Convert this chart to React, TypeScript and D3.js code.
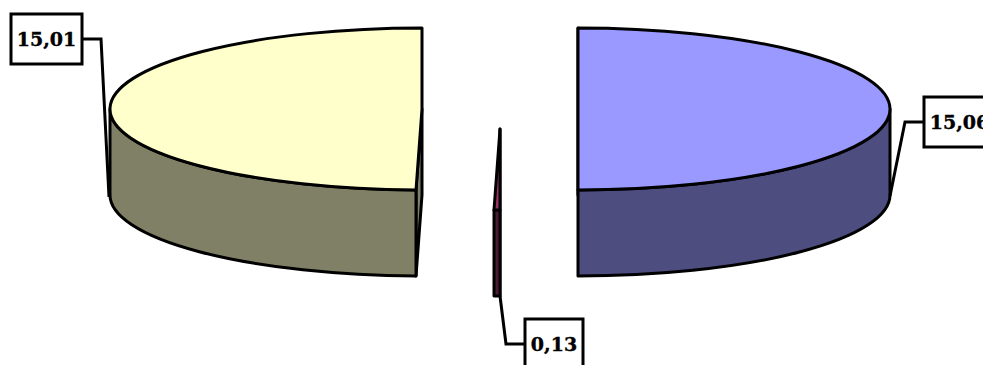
import * as d3 from 'd3'

// values printed on the labels
const values = [15.06, 0.13, 15.01]
// slice sweep in degrees, clockwise from 12 o'clock
const sweeps = [180, 1.1, 178.9]
const fills = ['#9999FF', '#993366', '#FFFFCC']

// layout
const WIDTH = 983
const HEIGHT = 365
const RX = 312
const RY = 81
const DEPTH = 86
const centersX = [578, 500, 422]
const centersY = [109, 129, 109]
const boxes = [
  { x: 924, y: 97, w: 71, h: 50 },
  { x: 525, y: 319, w: 58, h: 50 },
  { x: 11, y: 14, w: 71, h: 50 },
]
const leaders = [
  [[924, 122], [905, 122], [890, 196]],
  [[500, 296], [506, 344], [525, 344]],
  [[82, 39], [101, 39], [109, 197]],
]

const STROKE = 3
const wallColor = (c: string) => d3.interpolateRgb(c, '#000')(0.5)
const slices = d3.pie<number>().sort(null).value((d) => d)(sweeps)
const leaderLine = d3.line()

export default function App() {
  return (
    <svg width={WIDTH} height={HEIGHT} style={{ position: 'absolute', left: 0, top: 0 }}>
      <rect width={WIDTH} height={HEIGHT} fill="#fff" />
      {slices.map((s, i) => {
        const cx = centersX[i]
        const cy = centersY[i]
        const px = (a: number) => cx + RX * Math.sin(a)
        const py = (a: number) => cy - RY * Math.cos(a)
        const a0 = s.startAngle
        const a1 = s.endAngle
        const large = a1 - a0 > Math.PI ? 1 : 0

        const top = `M${cx},${cy}L${px(a0)},${py(a0)}A${RX},${RY} 0 ${large} 1 ${px(a1)},${py(a1)}Z`
        // cut face at the start edge of the slice
        const cut = `M${cx},${cy}L${px(a0)},${py(a0)}v${DEPTH}L${cx},${cy + DEPTH}Z`
        // outer wall, only the front half of the rim shows
        const w0 = Math.max(a0, Math.PI / 2)
        const w1 = Math.min(a1, (3 * Math.PI) / 2)
        const wall = w1 > w0
          ? `M${px(w0)},${py(w0)}A${RX},${RY} 0 0 1 ${px(w1)},${py(w1)}v${DEPTH}A${RX},${RY} 0 0 0 ${px(w0)},${py(w0) + DEPTH}Z`
          : null

        return (
          <g key={i} stroke="#000" strokeWidth={STROKE} strokeLinejoin="round">
            <path d={cut} fill={wallColor(fills[i])} />
            {wall && <path d={wall} fill={wallColor(fills[i])} />}
            <path d={top} fill={fills[i]} />
          </g>
        )
      })}
      {values.map((v, i) => (
        <g key={i}>
          <path
            d={leaderLine(leaders[i] as [number, number][]) ?? ''}
            fill="none"
            stroke="#000"
            strokeWidth={STROKE}
          />
          <rect
            x={boxes[i].x}
            y={boxes[i].y}
            width={boxes[i].w}
            height={boxes[i].h}
            fill="#fff"
            stroke="#000"
            strokeWidth={STROKE}
          />
          <text
            x={boxes[i].x + boxes[i].w / 2}
            y={boxes[i].y + boxes[i].h / 2}
            dy="0.38em"
            textAnchor="middle"
            fontFamily="DejaVu Serif"
            fontWeight="bold"
            fontSize={19}
            stroke="#000"
            strokeWidth={0.4}
            fill="#000"
          >
            {d3.format('.2f')(v).replace('.', ',')}
          </text>
        </g>
      ))}
    </svg>
  )
}
